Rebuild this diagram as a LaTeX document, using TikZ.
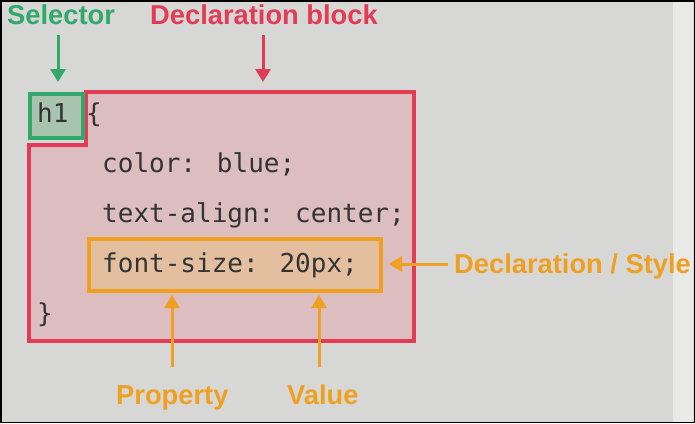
\documentclass[tikz,border=0pt]{standalone}
\usepackage{fontspec}
\usetikzlibrary{arrows.meta}
\newfontfamily\labelfont{Liberation Sans}
\newfontfamily\codefont{DejaVu Sans Mono}
\definecolor{bgc}{HTML}{D7D7D6}
\definecolor{stripc}{HTML}{E9E9E7}
\definecolor{selgreen}{HTML}{32A86C}
\definecolor{selfill}{HTML}{A8C4AE}
\definecolor{declred}{HTML}{E23B55}
\definecolor{declfill}{HTML}{DCBEC0}
\definecolor{styorange}{HTML}{F0A020}
\definecolor{styfill}{HTML}{E3BFA0}
\definecolor{codec}{HTML}{333333}
\tikzset{
  lbl/.style={font=\labelfont\bfseries\fontsize{27.3}{31}\selectfont, anchor=base west, inner sep=0pt},
  code/.style={font=\codefont\fontsize{26}{30}\selectfont, text=codec, anchor=base west, inner sep=0pt},
  arr/.style={line width=3pt, -{Triangle[width=15pt,length=13pt]}},
}
\begin{document}
\begin{tikzpicture}[x=1pt,y=-1pt]
\useasboundingbox (0,0) rectangle (695,423);
\fill[bgc] (0,0) rectangle (695,423);
\fill[stripc] (673,0) rectangle (693,423);
\draw[black, line width=1.5pt] (0.75,0.75) rectangle (694.25,422.25);

% declaration block
\draw[declred, fill=declfill, line width=3.5pt] (86,92) -- (414,92) -- (414,341) -- (29,341) -- (29,145) -- (86,145) -- cycle;
% selector box
\node[draw=selgreen, fill=selfill, line width=3.5pt, minimum width=53pt, minimum height=44pt, inner sep=0pt, anchor=north west] (selbox) at (28,92) {};
% declaration/style box
\node[draw=styorange, fill=styfill, line width=3.5pt, minimum width=292pt, minimum height=52pt, inner sep=0pt, anchor=north west] (stybox) at (87,237) {};

% code
\node[code] (h1) at (37,122) {h1};
\node[code] (open) at (86,122) {\{};
\node[code] (l1) at (102,172) {color: blue;};
\node[code] (l2) at (102,222) {text-align: center;};
\node[code] (l3) at (102,272) {font-size: 20px;};
\node[code] (close) at (37,322) {\}};

% labels
\node[lbl, text=selgreen] (sel) at (7,24) {Selector};
\node[lbl, text=declred] (decl) at (150,24) {Declaration block};
\node[lbl, text=styorange] (sty) at (454,273) {Declaration / Style};
\node[lbl, text=styorange] (prop) at (116,404) {Property};
\node[lbl, text=styorange] (val) at (287,404) {Value};

% arrows
\coordinate (selA) at (58,35); \coordinate (selB) at (58,82);
\coordinate (decA) at (263,35); \coordinate (decB) at (263,82);
\coordinate (styA) at (448,264); \coordinate (styB) at (389,264);
\coordinate (propA) at (172,367); \coordinate (propB) at (172,295);
\coordinate (valA) at (319,367); \coordinate (valB) at (319,295);
\draw[arr, selgreen] (selA) -- (selB);
\draw[arr, declred] (decA) -- (decB);
\draw[arr, styorange] (styA) -- (styB);
\draw[arr, styorange] (propA) -- (propB);
\draw[arr, styorange] (valA) -- (valB);
\end{tikzpicture}
\end{document}
